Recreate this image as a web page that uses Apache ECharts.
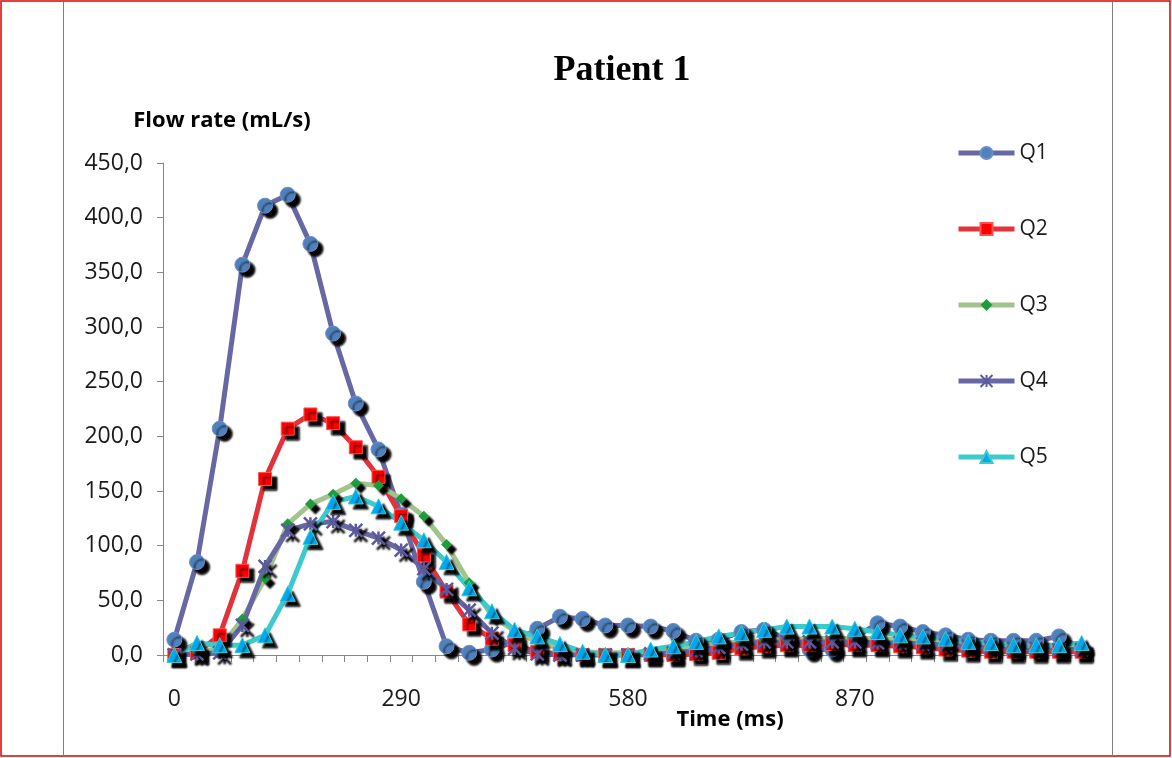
<!DOCTYPE html>
<html>
<head>
<meta charset="utf-8">
<script src="https://cdn.jsdelivr.net/npm/echarts@6/dist/echarts.min.js"></script>
<style>
html,body{margin:0;padding:0;background:#fff;}
#chart{width:1172px;height:758px;}
</style>
</head>
<body>
<div id="chart"></div>
<script>
// Time categories (ms)
const times = [];
for (let i = 0; i <= 40; i++) times.push(String(i * 29));

const q1 = [14, 85, 207, 357, 411, 421, 376, 294, 230, 188, 128, 67, 8, 2, 5, 12, 24, 35, 33, 27, 27, 26, 22, 13, 14, 21, 23, 15, 5, 5, 16, 29, 26, 21, 18, 14, 13, 13, 13, 17, 6];
const q2 = [0, 2, 18, 77, 161, 207, 220, 212, 190, 163, 127, 91, 58, 28, 15, 9, 3, 1, 0, 0, 0, 0, 0, 1, 2, 6, 8, 9, 9, 10, 9, 9, 8, 7, 5, 4, 3, 3, 3, 3, 3];
const q3 = [0, 3, 6, 33, 70, 120, 138, 147, 157, 155, 143, 127, 101, 66, 36, 22, 12, 6, 3, 2, 2, 3, 5, 8, 10, 12, 13, 14, 15, 15, 15, 15, 14, 13, 11, 10, 9, 8, 7, 6, 6];
const q4 = [0, 1, 2, 27, 81, 114, 120, 122, 114, 107, 96, 79, 60, 41, 20, 6, 1, 0, 0, 0, 0, 1, 2, 4, 7, 10, 12, 12, 12, 12, 12, 11, 11, 10, 9, 8, 7, 6, 6, 5, 5];
const q5 = [0, 11, 9, 9, 18, 56, 108, 140, 145, 136, 121, 105, 85, 61, 40, 23, 17, 10, 3, 0, 0, 5, 8, 12, 17, 20, 23, 26, 26, 26, 24, 21, 18, 17, 15, 12, 11, 9, 9, 9, 11];

const seriesNames = ['Q1', 'Q2', 'Q3', 'Q4', 'Q5'];

const chart = echarts.init(document.getElementById('chart'));
const FONT = 'Open Sans';
const shadow = { shadowColor: '#000', shadowOffsetX: 5, shadowOffsetY: 5, shadowBlur: 2 };

function mk(name, data, lineColor, symbol, size, fill, border, bw) {
  return {
    name, type: 'line', data,
    symbol, symbolSize: size,
    lineStyle: { color: lineColor, width: 5 },
    itemStyle: Object.assign({ color: fill, borderColor: border, borderWidth: bw }, shadow),
    emphasis: { disabled: true },
    animation: false
  };
}

chart.setOption({
  backgroundColor: '#fff',
  animation: false,
  legend: {
    orient: 'vertical', left: 951, top: 136,
    itemWidth: 56, itemHeight: 15, itemGap: 52,
    data: seriesNames,
    lineStyle: { width: 5 },
    textStyle: { fontFamily: FONT, fontSize: 21, color: '#1a1a1a', lineHeight: 24 },
    itemStyle: { shadowColor: 'transparent', shadowBlur: 0, shadowOffsetX: 0, shadowOffsetY: 0 }
  },
  grid: { left: 163, right: 79, top: 163, bottom: 103 },
  xAxis: {
    type: 'category', data: times, boundaryGap: true,
    axisLine: { lineStyle: { color: '#868686', width: 1 } },
    axisTick: { show: true, interval: 0, length: 7, lineStyle: { color: '#868686' } },
    axisLabel: {
      interval: (idx) => idx % 10 === 0 && idx !== times.length - 1,
      margin: 33, fontFamily: FONT, fontSize: 23, color: '#1a1a1a'
    },
    splitLine: { show: false }
  },
  yAxis: {
    type: 'value', min: 0, max: 450, interval: 50,
    axisLine: { show: true, lineStyle: { color: '#868686', width: 1 } },
    axisTick: { show: true, length: 6, lineStyle: { color: '#868686' } },
    axisLabel: {
      margin: 20, fontFamily: FONT, fontSize: 23, color: '#1a1a1a',
      formatter: (v) => v.toFixed(1).replace('.', ',')
    },
    splitLine: { show: false }
  },
  graphic: [
    { type: 'rect', shape: { x: 1, y: 1, width: 1169, height: 755 }, style: { fill: 'none', stroke: '#e00000', lineWidth: 1.5 }, silent: true },
    { type: 'line', shape: { x1: 63.5, y1: 2, x2: 63.5, y2: 756 }, style: { stroke: '#7f7f7f', lineWidth: 1 }, silent: true },
    { type: 'line', shape: { x1: 1112.5, y1: 2, x2: 1112.5, y2: 756 }, style: { stroke: '#7f7f7f', lineWidth: 1 }, silent: true },
    { type: 'text', x: 622, y: 71, style: { text: 'Patient 1', font: 'bold 36px "Liberation Serif"', fill: '#000', align: 'center', verticalAlign: 'middle' }, silent: true },
    { type: 'text', x: 222, y: 121, style: { text: 'Flow rate (mL/s)', font: 'bold 22px "Open Sans"', fill: '#000', align: 'center', verticalAlign: 'middle' }, silent: true },
    { type: 'text', x: 730, y: 720, style: { text: 'Time (ms)', font: 'bold 22px "Open Sans"', fill: '#000', align: 'center', verticalAlign: 'middle' }, silent: true }
  ],
  series: [
    mk('Q1', q1, '#6767a3', 'circle', 15, '#4f81bd', '#6b8fc8', 1),
    mk('Q2', q2, '#e2333a', 'rect', 13, '#ff0000', '#ff5050', 1),
    mk('Q3', q3, '#a2c28e', 'diamond', 11, '#1e9b3c', '#1e9b3c', 0),
    mk('Q4', q4, '#6767a3', 'path://M0,0L10,10M10,0L0,10M5,0L5,10', 13, '#5a5a9c', '#5a5a9c', 2.5),
    mk('Q5', q5, '#3ccaca', 'triangle', 15, '#00a8f0', '#3ccaca', 1)
  ]
});
</script>
</body>
</html>
